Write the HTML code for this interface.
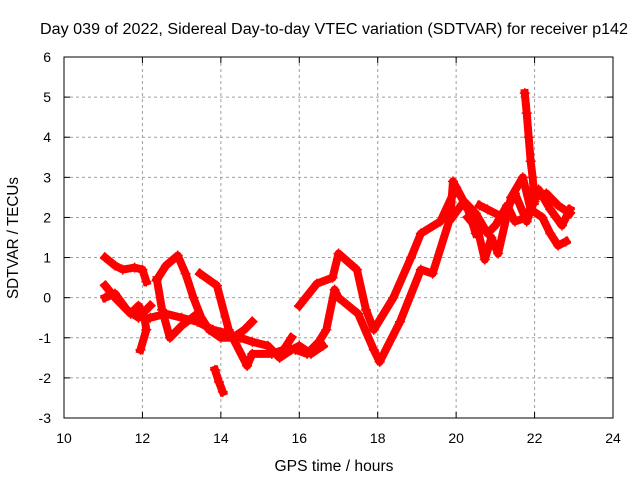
<!DOCTYPE html>
<html><head><meta charset="utf-8"><style>
body{margin:0;background:#fff;}
svg text{font-family:"Liberation Sans",sans-serif;font-size:14px;fill:#000;}
</style></head><body>
<svg id="chart" width="640" height="480" xmlns="http://www.w3.org/2000/svg">
<text x="40" y="34" textLength="588" lengthAdjust="spacingAndGlyphs" style="font-size:15.5px">Day 039 of 2022, Sidereal Day-to-day VTEC variation (SDTVAR) for receiver p142</text>
<g id="grid"></g>
<g id="ticks"></g>
<rect x="64" y="57" width="549" height="361" fill="none" stroke="#000" stroke-width="1"/>
<g id="marks"></g>
<text x="334" y="471" text-anchor="middle" textLength="119" lengthAdjust="spacingAndGlyphs" style="font-size:15.5px">GPS time / hours</text>
<text x="18" y="238" text-anchor="middle" transform="rotate(-90 18 238)" textLength="122" lengthAdjust="spacingAndGlyphs" style="font-size:15.5px">SDTVAR / TECUs</text>
</svg>
<script>
const xTicks=[10,12,14,16,18,20,22,24];
const yTicks=[-3,-2,-1,0,1,2,3,4,5,6];
const hA=[11.05,11.3,11.5,11.8,12.0,12.1];
const vA=[1.0,0.8,0.7,0.75,0.7,0.4];
const hB=[11.05,11.3,11.5,11.7,11.9,12.05,12.1,11.95];
const vB=[0.3,0.0,-0.2,-0.4,-0.2,-0.5,-0.8,-1.3];
const hC=[11.05,11.3,11.6,11.9,12.1,12.2];
const vC=[0.0,0.1,-0.3,-0.5,-0.3,-0.2];
const hD=[12.37,12.6,12.9,13.1,13.3,13.5,13.7,14.0,14.3,14.6,14.8];
const vD=[0.45,0.8,1.05,0.6,0.0,-0.5,-0.8,-1.0,-1.0,-0.8,-0.6];
const hE=[12.2,12.6,13.0,13.4,13.8,14.2,14.5,14.8,15.2,15.5,15.8,16.0,16.3,16.6];
const vE=[-0.5,-0.4,-0.5,-0.6,-0.8,-0.9,-1.0,-1.1,-1.2,-1.5,-1.3,-1.2,-1.4,-1.2];
const hF=[12.37,12.5,12.7,13.0,13.4];
const vF=[0.45,-0.3,-1.0,-0.7,-0.4];
const hG=[13.47,13.9,14.2,14.67,14.8,15.3,15.6,15.8];
const vG=[0.6,0.3,-0.8,-1.7,-1.4,-1.4,-1.3,-1.0];
const hH=[13.85,13.95,14.05];
const vH=[-1.8,-2.1,-2.35];
const hJ=[15.9,16.2,16.5,16.69,16.9,17.0,17.5,17.9,18.05,18.57,19.1,19.4,19.85,19.92,20.3,20.5];
const vJ=[-1.3,-1.4,-1.1,-0.8,0.2,0.0,-0.4,-1.3,-1.6,-0.6,0.7,0.6,2.0,2.9,2.2,1.6];
const hK=[16.0,16.45,16.85,17.0,17.47,17.7,17.9,18.4,18.85,19.1,19.6,20.0,20.3];
const vK=[-0.2,0.35,0.5,1.1,0.7,-0.3,-0.8,0.0,1.0,1.6,1.9,2.75,2.2];
const hL=[19.9,20.2,20.5,20.8,21.0,21.3,21.5,21.8,22.0,22.3,22.6,22.9];
const vL=[2.0,2.4,2.1,1.6,1.8,2.3,1.9,2.0,2.5,2.6,2.3,2.1];
const hM=[20.3,20.55,20.73,20.9,21.07,21.4,21.7,21.9,22.2,22.4,22.6,22.8];
const vM=[2.0,1.7,0.95,1.5,1.1,2.5,3.0,2.2,2.0,1.6,1.3,1.4];
const hN=[20.6,20.8,21.2,21.5,21.8,22.1,22.4,22.7,22.9];
const vN=[2.3,2.2,2.0,2.6,1.9,2.7,2.2,1.8,2.2];
const hS=[21.75,21.8,21.85,21.9,21.95,22.0];
const vS=[5.1,4.6,4.0,3.4,3.0,2.4];
const tracksH=[hA,hB,hC,hD,hE,hF,hG,hH,hJ,hK,hL,hM,hN,hS];
const tracksV=[vA,vB,vC,vD,vE,vF,vG,vH,vJ,vK,vL,vM,vN,vS];
const NS="http://www.w3.org/2000/svg";
const X0=64,X1=613,Y0=418,Y1=57;
function xs(h){return X0+(h-10)/(24-10)*(X1-X0);}
function ys(v){return Y0-(v+3)/9*(Y0-Y1);}
function mk(tag,attrs,parent){const e=document.createElementNS(NS,tag);for(const k in attrs)e.setAttribute(k,attrs[k]);parent.appendChild(e);return e;}
const grid=document.getElementById('grid'),ticks=document.getElementById('ticks'),marks=document.getElementById('marks');
xTicks.forEach(t=>{
  const x=xs(t);
  if(t>10&&t<24){const g=mk('line',{x1:x,x2:x,y1:Y1,y2:Y0,stroke:'#a0a0a0','stroke-dasharray':'3,3'},grid);
  
  }
  mk('line',{x1:x,x2:x,y1:Y0,y2:Y0-6,stroke:'#000'},ticks);
  mk('line',{x1:x,x2:x,y1:Y1,y2:Y1+6,stroke:'#000'},ticks);
  const tx=mk('text',{x:x,y:443,'text-anchor':'middle'},ticks);tx.textContent=t;
  
  
});
yTicks.forEach(t=>{
  const y=ys(t);
  if(t>-3&&t<6){const g=mk('line',{x1:X0,x2:X1,y1:y,y2:y,stroke:'#a0a0a0','stroke-dasharray':'3,3'},grid);
  
  }
  mk('line',{x1:X0,x2:X0+6,y1:y,y2:y,stroke:'#000'},ticks);
  mk('line',{x1:X1,x2:X1-6,y1:y,y2:y,stroke:'#000'},ticks);
  const tx=mk('text',{x:51,y:y+5,'text-anchor':'end'},ticks);tx.textContent=t;
  
  
});
tracksH.forEach((hs,i)=>{
  const vs=tracksV[i];
  const pts=hs.map((h,j)=>xs(h)+','+ys(vs[j])).join(' ');
  const pl=mk('polyline',{points:pts,fill:'none',stroke:'#ff0000','stroke-width':8,'stroke-linejoin':'round','stroke-linecap':'square'},marks);
  
  
  hs.forEach((h,j)=>{
    const x=xs(h),y=ys(vs[j]);
    const p=mk('path',{d:`M${x-5},${y}H${x+5}M${x},${y-5}V${y+5}`,stroke:'#ff0000','stroke-width':1.5},marks);
    
    
  });
});
</script>
</body></html>
